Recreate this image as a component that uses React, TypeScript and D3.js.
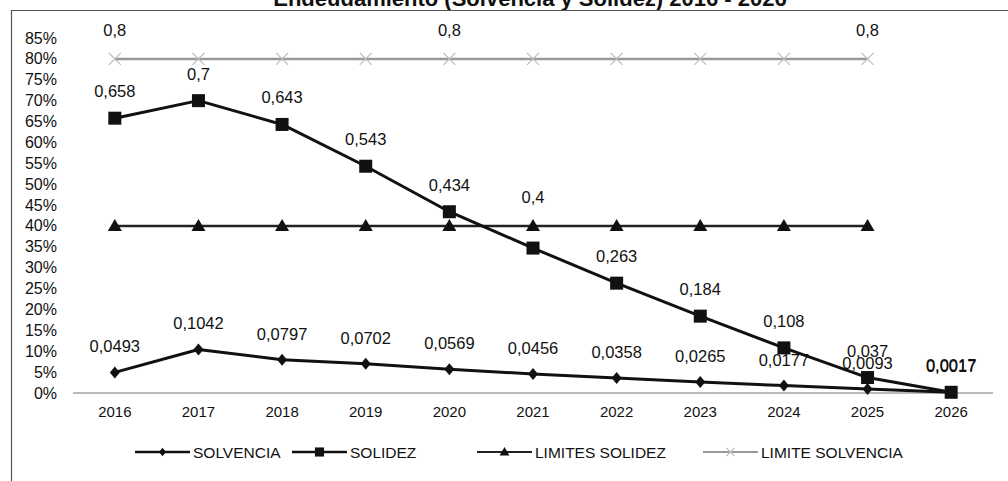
import React from "react";
import * as d3 from "d3";

const years = ["2016","2017","2018","2019","2020","2021","2022","2023","2024","2025","2026"];
const solvencia = [0.0493, 0.1042, 0.0797, 0.0702, 0.0569, 0.0456, 0.0358, 0.0265, 0.0177, 0.0093, 0.0017];
const solvenciaLabels = ["0,0493","0,1042","0,0797","0,0702","0,0569","0,0456","0,0358","0,0265","0,0177","0,0093","0,0017"];
const solidez = [0.658, 0.7, 0.643, 0.543, 0.434, 0.347, 0.263, 0.184, 0.108, 0.037, 0.0017];
const solidezLabels = ["0,658","0,7","0,643","0,543","0,434",null,"0,263","0,184","0,108","0,037","0,0017"];
const limitesSolidez = [0.4, 0.4, 0.4, 0.4, 0.4, 0.4, 0.4, 0.4, 0.4, 0.4];
const limitesSolidezLabels = [null,null,null,null,null,"0,4",null,null,null,null];
const limiteSolvencia = [0.8, 0.8, 0.8, 0.8, 0.8, 0.8, 0.8, 0.8, 0.8, 0.8];
const limiteSolvenciaLabels = ["0,8",null,null,null,"0,8",null,null,null,null,"0,8"];
const yTicks = [0,0.05,0.1,0.15,0.2,0.25,0.3,0.35,0.4,0.45,0.5,0.55,0.6,0.65,0.7,0.75,0.8,0.85];
const legendNames = ["SOLVENCIA","SOLIDEZ","LIMITES SOLIDEZ","LIMITE SOLVENCIA"];
const title = "Endeudamiento (Solvencia y Solidez) 2016 - 2026";

const FONT = "'Liberation Sans', Arial, sans-serif";

function Marker({ kind, x, y, s = 1 }: { kind: string; x: number; y: number; s?: number }) {
  if (kind === "diamond") {
    return <path d={`M${x},${y - 6 * s}L${x + 5 * s},${y}L${x},${y + 6 * s}L${x - 5 * s},${y}Z`} fill="#111" />;
  }
  if (kind === "square") {
    return <rect x={x - 6.5 * s} y={y - 6.5 * s} width={13 * s} height={13 * s} fill="#111" />;
  }
  if (kind === "triangle") {
    return <path d={`M${x},${y - 7 * s}L${x + 7 * s},${y + 5 * s}L${x - 7 * s},${y + 5 * s}Z`} fill="#111" />;
  }
  return (
    <g stroke="#bbb" strokeWidth={1.2}>
      <line x1={x - 6 * s} y1={y - 6 * s} x2={x + 6 * s} y2={y + 6 * s} />
      <line x1={x - 6 * s} y1={y + 6 * s} x2={x + 6 * s} y2={y - 6 * s} />
    </g>
  );
}

export default function App() {
  const W = 1008, H = 481;
  const x = d3.scaleBand<string>().domain(years).range([73, 993]);
  const cx = (i: number) => (x(years[i]) as number) + x.bandwidth() / 2;
  const y = d3.scaleLinear().domain([0, 0.85]).range([393, 38]);
  const line = d3.line<number>().x((_, i) => cx(i)).y((d) => y(d));

  const series = [
    { name: legendNames[0], values: solvencia, labels: solvenciaLabels, kind: "diamond", color: "#111", width: 3, dy: -26 },
    { name: legendNames[1], values: solidez, labels: solidezLabels, kind: "square", color: "#111", width: 3, dy: -27 },
    { name: legendNames[2], values: limitesSolidez, labels: limitesSolidezLabels, kind: "triangle", color: "#222", width: 2.5, dy: -29 },
    { name: legendNames[3], values: limiteSolvencia, labels: limiteSolvenciaLabels, kind: "x", color: "#999", width: 2.5, dy: -29 },
  ];
  const legendTextX = [193, 350, 535, 761];

  return (
    <svg width={W} height={H} style={{ position: "absolute", left: 0, top: 0, background: "#fff" }} fontFamily={FONT}>
      <rect x={0} y={0} width={W} height={H} fill="#fff" />
      <text x={530} y={6} textAnchor="middle" fontSize={22} fontWeight="bold" fill="#111">{title}</text>
      <path d={`M11.5,${H}V10.5H${W}`} fill="none" stroke="#555" strokeWidth={1.2} />
      {yTicks.map((t) => (
        <text key={t} x={57} y={y(t)} textAnchor="end" dominantBaseline="central" fontSize={16} fill="#111">
          {Math.round(t * 100) + "%"}
        </text>
      ))}
      <line x1={73} x2={993} y1={y(0)} y2={y(0)} stroke="#777" strokeWidth={1.2} />
      {years.map((yr, i) => (
        <text key={yr} x={cx(i)} y={411} textAnchor="middle" dominantBaseline="central" fontSize={15} fill="#111">{yr}</text>
      ))}
      {series.slice().reverse().map((s) => (
        <g key={s.name}>
          <path d={line(s.values) || ""} fill="none" stroke={s.color} strokeWidth={s.width} strokeLinejoin="round" />
          {s.values.map((v, i) => <Marker key={i} kind={s.kind} x={cx(i)} y={y(v)} />)}
          {s.values.map((v, i) =>
            s.labels[i] ? (
              <text key={"l" + i} x={cx(i)} y={y(v) + s.dy} textAnchor="middle" dominantBaseline="central" fontSize={16.5} fill="#111">
                {s.labels[i]}
              </text>
            ) : null
          )}
        </g>
      ))}
      {series.map((s, i) => {
        const tx = legendTextX[i];
        const x1 = tx - 58, x2 = tx - 3;
        return (
          <g key={"lg" + s.name}>
            <line x1={x1} x2={x2} y1={452} y2={452} stroke={s.color} strokeWidth={s.width - 0.5} />
            <Marker kind={s.kind} x={(x1 + x2) / 2} y={452} s={0.7} />
            <text x={tx} y={452} dominantBaseline="central" fontSize={15.5} fill="#111">{s.name}</text>
          </g>
        );
      })}
    </svg>
  );
}
